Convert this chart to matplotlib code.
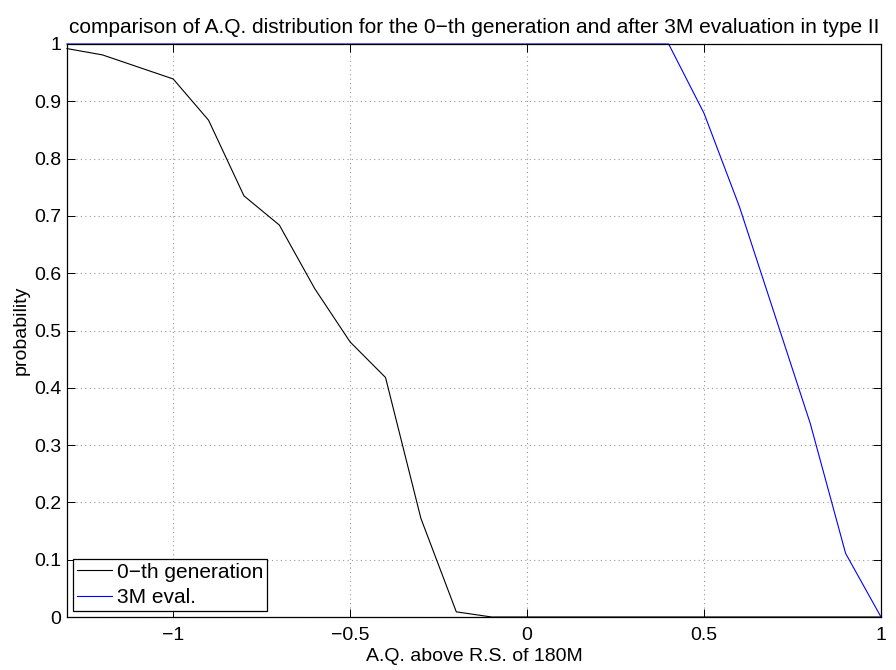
import matplotlib
matplotlib.use("Agg")
import matplotlib.pyplot as plt

plt.rcParams['font.family'] = ['Liberation Sans', 'DejaVu Sans']
plt.rcParams['axes.unicode_minus'] = True

gen0_x = [-1.3, -1.2, -1.1, -1.0, -0.9, -0.8, -0.7, -0.6, -0.5, -0.4, -0.3, -0.2, -0.1, 0.0, 0.1, 0.2, 0.3, 0.4, 0.5, 0.6, 0.7, 0.8, 0.9, 1.0]
gen0_y = [0.992, 0.981, 0.960, 0.939, 0.867, 0.735, 0.684, 0.573, 0.480, 0.418, 0.172, 0.009, 0.0, 0.0, 0.0, 0.0, 0.0, 0.0, 0.0, 0.0, 0.0, 0.0, 0.0, 0.0]
eval_x = [-1.3, -1.2, -1.1, -1.0, -0.9, -0.8, -0.7, -0.6, -0.5, -0.4, -0.3, -0.2, -0.1, 0.0, 0.1, 0.2, 0.3, 0.4, 0.5, 0.6, 0.7, 0.8, 0.9, 1.0]
eval_y = [1.0, 1.0, 1.0, 1.0, 1.0, 1.0, 1.0, 1.0, 1.0, 1.0, 1.0, 1.0, 1.0, 1.0, 1.0, 1.0, 1.0, 1.0, 0.879, 0.716, 0.527, 0.338, 0.111, 0.0]

xticks = [-1, -0.5, 0, 0.5, 1]
xticklabels = ['\u22121', '\u22120.5', '0', '0.5', '1']
yticks = [0, 0.1, 0.2, 0.3, 0.4, 0.5, 0.6, 0.7, 0.8, 0.9, 1]
yticklabels = ['0', '0.1', '0.2', '0.3', '0.4', '0.5', '0.6', '0.7', '0.8', '0.9', '1']

FS = 14

fig = plt.figure(figsize=(8.96, 6.70), dpi=100)
ax = fig.add_axes([67/896, 53/670, 814/896, 573/670])

ax.plot(gen0_x, gen0_y, color='black', lw=0.8, label='0\u2212th generation', clip_on=False)
ax.plot(eval_x, eval_y, color='blue', lw=0.8, label='3M eval.', clip_on=False)

ax.set_xlim(-1.3, 1)
ax.set_ylim(0, 1)
ax.set_xticks(xticks)
ax.set_xticklabels(xticklabels)
ax.set_yticks(yticks)
ax.set_yticklabels(yticklabels)
ax.tick_params(direction='in', top=True, right=True, labelsize=FS, length=6, width=0.7)
ax.tick_params(axis='x', pad=7)
ax.tick_params(axis='y', pad=4)
ax.grid(True, linestyle=(0, (1, 3)), color='#999999', lw=0.8)
for s in ax.spines.values():
    s.set_linewidth(0.9)

ax.set_title('comparison of A.Q. distribution for the 0\u2212th generation and after 3M evaluation in type II',
             fontsize=15, pad=8)
ax.set_xlabel('A.Q. above R.S. of 180M', fontsize=FS, labelpad=3)
ax.set_ylabel('probability', fontsize=FS, labelpad=3)

leg = ax.legend(loc='lower left', fontsize=15, fancybox=False, framealpha=1, edgecolor='black',
                borderaxespad=0.3, handlelength=1.7, handletextpad=0.2, borderpad=0.18, labelspacing=0.3)
leg.get_frame().set_linewidth(0.9)

fig.savefig('out.png', dpi=100)
